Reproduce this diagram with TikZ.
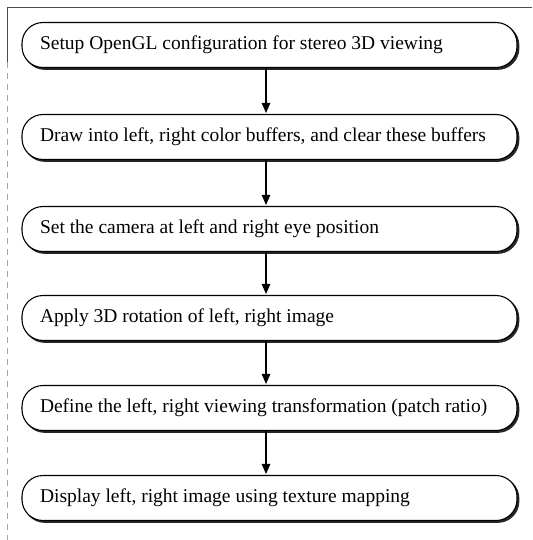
\documentclass[tikz,border=0pt]{standalone}
\usepackage{fontspec}
\setmainfont{Liberation Serif}
\usetikzlibrary{arrows.meta}
\begin{document}
\begin{tikzpicture}[x=1pt,y=-1pt,
  boxshape/.style={line width=1.1pt, rounded corners=21pt,
    minimum width=495pt, minimum height=45pt,
    font=\fontsize{19.5}{22}\selectfont, inner xsep=18pt, inner ysep=2pt},
  stepbox/.style={boxshape, draw=black, fill=white},
  shadowbox/.style={boxshape, draw=black!85, fill=black!85},
  flow/.style={line width=1.1pt, -{Triangle[length=10pt,width=8.5pt]}, shorten >=1pt}]
\useasboundingbox (0,0) rectangle (532,540);
\fill[white] (0,0) rectangle (532,540);
\coordinate (tl) at (7.5,7.5);
\coordinate (tr) at (532,7.5);
\coordinate (bl) at (7.5,540);
\coordinate (ml) at (7.5,62);
\draw[line width=0.6pt, black!70] (tr) -- (tl) -- (ml);
\draw[line width=0.5pt, black!35, dash pattern=on 6pt off 5pt] (ml) -- (bl);
\foreach \n/\y/\t in {
  s1/45/{Setup OpenGL configuration for stereo 3D viewing},
  s2/137/{Draw into left, right color buffers, and clear these buffers},
  s3/229/{Set the camera at left and right eye position},
  s4/318/{Apply 3D rotation of left, right image},
  s5/408/{Define the left, right viewing transformation (patch ratio)},
  s6/498/{Display left, right image using texture mapping}} {
  \node[shadowbox] (\n sh) at (271.3,\y+1.8) {\makebox[459pt][l]{\phantom{\t}}};
  \node[stepbox] (\n) at (269.5,\y) {\makebox[459pt][l]{\t}};
}
\foreach \a/\b in {s1/s2,s2/s3,s3/s4,s4/s5,s5/s6}
  \draw[flow] ([xshift=-3.5pt]\a.south) -- ([xshift=-3.5pt]\b.north);
\end{tikzpicture}
\end{document}
